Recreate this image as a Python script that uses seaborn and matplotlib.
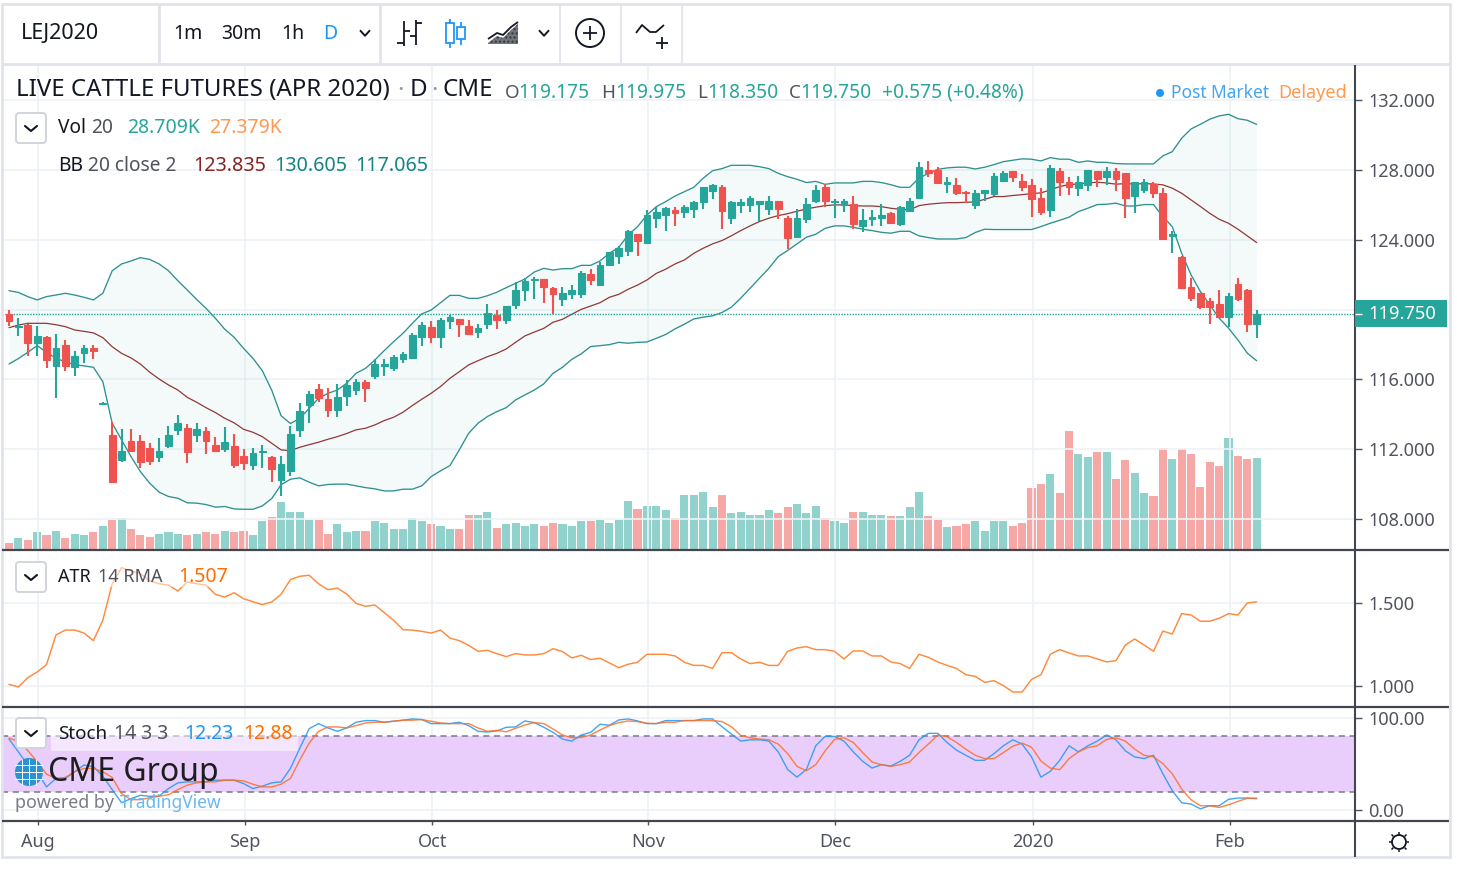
import numpy as np
import matplotlib
matplotlib.use("Agg")
import matplotlib.pyplot as plt
from matplotlib.patches import Circle, FancyBboxPatch, Rectangle
import seaborn as sns

# ---------- data ----------
opens = [119.74,118.98,119.13,118.10,118.41,116.74,117.97,116.69,117.49,117.79,
         114.61,112.79,111.38,112.49,112.49,112.05,111.57,112.18,113.08,113.23,
         112.81,113.04,112.24,112.01,112.16,111.61,111.11,111.84,111.53,110.22,
         110.77,113.08,114.51,115.47,114.85,114.24,115.04,115.41,115.83,116.19,
         116.74,116.67,117.18,117.20,118.44,118.98,118.44,119.34,119.47,119.05,
         118.73,119.17,119.68,119.42,120.24,121.13,121.69,121.73,121.23,120.62,
         120.87,120.87,122.01,121.40,122.55,123.08,123.37,124.30,123.83,125.26,
         125.43,125.70,125.61,125.78,126.16,126.79,127.02,125.26,125.97,125.97,
         126.06,125.78,126.20,125.24,124.17,125.17,126.22,127.02,126.14,126.01,
         126.03,124.80,125.17,125.24,125.51,124.88,125.62,126.41,127.99,127.99,
         127.21,127.11,126.75,125.97,126.69,126.60,127.38,127.92,127.36,127.12,
         126.37,125.70,127.92,127.29,126.96,127.13,127.92,127.57,127.92,127.82,
         126.50,126.87,127.19,126.66,124.19,122.99,121.27,120.93,120.47,120.30,
         119.59,121.46,121.10,119.175]
highs = [119.97,119.49,119.17,119.05,118.50,118.60,118.25,117.62,117.99,117.99,
         114.68,113.58,113.16,113.14,112.79,112.34,112.62,113.33,113.96,113.42,
         113.52,113.25,112.70,113.25,112.87,111.99,112.07,112.26,111.61,111.63,
         113.33,114.66,115.31,115.75,115.48,115.73,115.96,116.02,115.96,117.14,
         117.16,117.37,117.56,118.63,119.26,119.32,119.49,119.70,119.47,119.40,
         119.19,120.31,119.95,120.22,121.55,121.78,121.88,121.75,121.31,121.29,
         121.38,122.18,122.30,122.70,123.31,123.63,124.55,124.30,125.70,125.87,
         125.89,125.85,125.99,126.24,127.00,127.19,127.11,126.20,126.31,126.48,
         126.20,126.48,126.20,125.34,125.76,126.39,127.11,127.19,126.31,126.31,
         126.48,125.76,125.68,126.03,125.61,125.93,126.39,128.45,128.53,128.18,
         127.57,127.55,126.79,126.85,126.85,127.84,127.94,127.92,127.75,127.46,
         126.94,128.28,128.09,127.57,127.65,128.01,127.92,128.18,128.09,127.82,
         127.29,127.46,127.31,126.94,124.52,123.09,121.83,120.95,120.66,121.12,
         120.95,121.83,121.18,119.975]
lows = [119.05,118.50,117.36,117.36,116.63,114.95,116.48,116.21,116.92,117.18,
        114.59,110.14,111.28,111.84,110.92,111.09,111.28,112.09,112.81,111.19,
        112.43,111.74,111.82,111.84,110.92,110.83,110.83,110.92,110.12,109.30,
        110.48,112.70,113.50,114.68,113.86,113.86,114.49,115.10,114.68,116.02,
        116.19,116.50,116.92,117.18,117.91,118.08,117.81,118.88,118.44,118.52,
        118.35,118.88,118.88,119.15,120.05,120.48,120.58,120.39,119.72,120.22,
        120.58,120.68,121.38,121.38,122.47,122.62,123.06,123.06,123.83,124.67,
        124.51,124.78,125.24,125.24,125.78,126.31,124.61,124.88,125.51,125.61,
        125.05,125.41,125.17,123.45,124.17,124.98,126.12,125.89,125.24,125.61,
        124.61,124.44,124.80,124.78,124.88,124.78,125.59,126.31,127.57,127.19,
        126.69,126.58,126.08,125.78,126.24,126.50,127.31,127.31,126.77,125.32,
        125.42,125.32,126.50,126.58,126.50,126.77,127.04,127.13,126.77,125.24,
        125.51,126.68,126.41,124.00,123.26,121.22,120.51,120.05,119.17,119.52,
        118.98,120.51,118.70,118.35]
closes = [119.36,119.05,118.10,118.50,117.11,117.78,116.74,117.34,117.79,117.64,
          114.66,110.14,111.88,111.91,111.28,111.30,111.88,112.79,113.50,111.84,
          113.14,112.45,111.91,112.43,111.11,111.21,111.80,111.90,110.85,111.17,
          112.87,114.21,115.18,114.95,114.24,115.01,115.66,115.83,115.48,116.90,
          116.90,117.26,117.45,118.54,119.13,118.44,119.40,119.59,119.17,118.61,
          118.96,119.78,119.42,120.20,121.11,121.63,121.74,121.31,120.87,120.92,
          121.10,122.07,121.67,122.53,123.27,123.50,124.51,123.90,125.39,125.56,
          125.83,125.51,125.85,126.14,127.00,127.13,125.62,126.14,126.14,126.39,
          126.20,126.20,125.78,124.08,125.24,126.03,126.83,126.24,126.22,126.20,
          124.90,125.13,125.32,125.40,124.98,125.85,126.20,128.18,127.84,127.23,
          127.30,126.69,126.66,126.66,126.83,127.65,127.80,127.59,127.04,126.33,
          125.61,128.09,127.33,127.00,127.29,128.01,127.50,127.92,127.50,126.41,
          127.29,127.29,126.69,124.06,124.33,121.22,120.68,120.15,120.15,119.59,
          120.76,120.61,119.17,119.75]
volumes_k = [1.9,3.4,2.8,5.3,4.4,5.7,3.4,4.8,4.4,5.3,
             7.3,9.2,9.7,6.3,4.4,3.8,4.8,5.3,4.8,4.4,
             4.8,5.3,4.8,5.7,5.3,5.7,4.4,8.7,10.2,14.8,
             11.7,11.7,9.2,9.2,4.8,7.8,5.4,5.7,5.7,8.7,
             8.2,6.3,6.3,9.7,8.7,7.8,7.3,6.3,6.3,10.6,
             10.6,11.6,6.7,7.8,8.2,7.3,7.8,7.3,8.2,7.8,
             7.3,8.7,8.7,9.2,8.2,9.2,15.1,12.6,13.6,13.6,
             12.2,9.8,17.1,17.1,18.1,13.2,17.1,11.3,11.7,10.8,
             10.8,12.2,11.3,13.2,14.2,11.3,13.7,9.8,8.9,8.3,
             11.7,11.7,10.8,10.8,10.3,10.3,13.2,18.1,10.3,9.3,
             6.9,7.3,7.8,8.9,5.8,8.9,8.9,7.3,8.3,19.2,
             20.7,23.6,17.7,37.4,30.0,29.1,30.6,30.6,22.1,28.0,
             24.1,17.7,16.8,32.0,28.6,31.5,30.0,19.7,27.6,26.1,
             35.0,29.5,28.6,28.709]
bb_upper = [121.08,120.98,120.74,120.55,120.74,120.83,120.93,120.83,120.70,120.55,
            120.93,122.22,122.61,122.78,122.97,122.87,122.61,122.22,121.65,121.12,
            120.58,120.07,119.50,118.87,118.41,117.78,117.21,116.50,115.39,113.92,
            113.47,113.77,114.34,114.92,115.20,115.39,115.78,116.35,116.63,117.11,
            117.65,118.16,118.64,119.21,119.75,119.97,120.39,120.81,120.81,120.64,
            120.64,120.79,120.99,121.25,121.50,121.75,122.15,122.36,122.26,122.34,
            122.34,122.53,122.53,122.78,123.22,123.56,124.27,124.74,125.41,125.89,
            126.18,126.50,126.75,127.00,127.52,127.95,128.07,128.26,128.26,128.26,
            128.18,128.07,127.80,127.61,127.46,127.27,127.34,127.17,127.25,127.25,
            127.25,127.34,127.34,127.27,127.15,127.00,127.00,127.52,127.80,128.03,
            128.11,128.15,128.15,128.05,128.15,128.30,128.47,128.55,128.63,128.61,
            128.51,128.70,128.61,128.61,128.43,128.51,128.43,128.43,128.36,128.34,
            128.34,128.34,128.34,128.80,129.04,129.81,130.34,130.61,130.90,131.09,
            131.18,130.93,130.84,130.605]
bb_basis = [118.96,119.11,119.21,119.21,119.21,119.13,119.02,118.83,118.75,118.66,
            118.39,117.87,117.49,117.23,116.88,116.41,116.02,115.68,115.39,114.97,
            114.69,114.38,114.10,113.77,113.51,113.14,112.97,112.72,112.34,111.96,
            111.92,112.11,112.26,112.40,112.57,112.72,112.90,113.11,113.20,113.39,
            113.64,113.83,114.12,114.50,114.86,115.20,115.59,116.06,116.44,116.83,
            117.07,117.30,117.49,117.74,118.12,118.49,118.71,118.92,119.27,119.44,
            119.73,120.01,120.20,120.39,120.70,120.87,121.16,121.40,121.69,122.07,
            122.31,122.61,122.84,123.22,123.51,123.76,123.95,124.22,124.52,124.79,
            125.04,125.23,125.38,125.49,125.63,125.76,125.86,125.95,125.99,125.99,
            125.95,125.93,125.93,125.89,125.80,125.74,125.70,125.95,126.03,126.08,
            126.12,126.12,126.14,126.16,126.31,126.47,126.47,126.53,126.58,126.64,
            126.68,126.85,127.04,127.16,127.19,127.25,127.29,127.25,127.18,127.21,
            127.19,127.21,127.19,127.14,126.95,126.66,126.28,125.90,125.51,125.17,
            124.94,124.60,124.22,123.835]
bb_lower = [116.88,117.19,117.55,117.93,117.55,117.21,117.00,116.84,116.77,116.69,
            115.87,113.49,112.53,111.58,110.72,110.05,109.54,109.29,109.19,108.93,
            108.91,108.83,108.68,108.72,108.58,108.56,108.56,108.75,109.17,109.96,
            110.28,110.36,110.11,109.90,109.98,110.00,110.00,109.90,109.80,109.73,
            109.61,109.61,109.71,109.71,109.90,110.43,110.76,111.06,111.96,112.91,
            113.49,113.87,114.15,114.38,114.82,115.11,115.39,115.74,116.35,116.69,
            117.15,117.46,117.88,117.93,117.99,118.12,118.07,118.12,118.14,118.35,
            118.57,118.89,119.16,119.46,119.56,119.64,119.83,120.13,120.65,121.22,
            121.79,122.36,123.03,123.38,123.76,124.14,124.31,124.65,124.79,124.79,
            124.71,124.60,124.52,124.42,124.37,124.48,124.48,124.22,124.12,124.04,
            124.04,124.04,124.12,124.41,124.60,124.58,124.58,124.58,124.58,124.58,
            124.75,124.94,125.11,125.29,125.61,125.80,126.01,126.03,126.09,125.93,
            125.93,126.01,126.01,125.32,124.75,123.23,121.99,121.03,120.27,119.51,
            118.93,118.26,117.50,117.065]
atr = [1.010,0.994,1.050,1.084,1.129,1.307,1.337,1.337,1.319,1.273,
       1.396,1.616,1.713,1.693,1.677,1.633,1.616,1.608,1.572,1.627,
       1.616,1.608,1.552,1.536,1.562,1.526,1.508,1.490,1.506,1.552,
       1.641,1.661,1.667,1.616,1.580,1.590,1.554,1.498,1.480,1.488,
       1.442,1.396,1.339,1.337,1.329,1.319,1.337,1.289,1.273,1.245,
       1.209,1.215,1.195,1.177,1.195,1.187,1.187,1.195,1.225,1.207,
       1.169,1.185,1.159,1.167,1.139,1.110,1.131,1.143,1.191,1.191,
       1.191,1.181,1.143,1.124,1.124,1.106,1.201,1.201,1.163,1.135,
       1.143,1.124,1.124,1.209,1.229,1.237,1.219,1.219,1.209,1.163,
       1.211,1.211,1.181,1.181,1.145,1.135,1.106,1.191,1.173,1.145,
       1.124,1.106,1.068,1.058,1.022,1.032,1.002,0.964,0.964,1.040,
       1.068,1.191,1.219,1.199,1.181,1.181,1.163,1.145,1.153,1.247,
       1.283,1.247,1.209,1.331,1.313,1.436,1.428,1.390,1.390,1.408,
       1.436,1.428,1.500,1.507]
stoch_k = [77.1,63.2,48.9,41.6,25.1,34.3,34.3,41.6,48.9,47.0,
           36.8,22.2,7.9,12.3,16.0,14.9,15.2,23.3,29.5,30.6,
           30.6,30.6,32.4,32.4,32.4,28.8,23.3,25.9,29.5,30.6,
           45.2,67.2,88.4,93.9,89.2,85.5,89.2,95.4,97.2,97.2,
           95.4,96.5,97.6,99.0,98.3,93.9,93.9,93.9,95.4,91.7,
           85.5,84.8,85.9,89.9,90.3,96.8,95.0,90.0,84.4,77.1,
           74.9,81.5,84.4,93.2,92.1,97.9,99.0,96.8,93.9,93.9,
           97.2,97.2,97.2,97.2,99.0,99.0,90.6,82.6,74.9,76.3,
           76.3,74.9,63.2,44.1,35.7,44.1,69.8,80.0,80.0,74.9,
           63.2,52.9,45.6,49.3,47.8,52.9,59.5,76.3,83.3,83.3,
           73.4,65.0,59.5,54.0,54.0,61.3,69.8,76.3,71.6,57.7,
           35.7,42.0,54.0,69.8,63.2,69.8,74.9,81.5,76.3,64.3,
           57.7,55.9,59.5,39.4,21.1,7.9,6.5,1.3,4.6,4.6,
           11.6,13.0,13.0,12.23]
stoch_d = [78.2,74.5,64.6,52.6,39.0,34.3,35.4,41.6,45.2,45.2,
           41.6,35.4,17.8,11.2,11.2,13.4,14.9,16.7,22.2,27.0,
           29.5,30.6,30.6,32.4,32.4,31.7,28.0,25.1,25.1,28.0,
           34.3,54.4,72.7,85.5,90.3,90.3,89.2,91.7,94.6,95.4,
           95.4,96.5,97.6,97.6,98.3,96.5,94.6,93.9,93.9,93.9,
           89.2,85.5,86.6,85.0,88.8,92.4,95.0,93.9,88.0,81.5,
           78.5,78.9,81.5,87.0,91.7,95.0,96.8,96.1,94.3,93.9,
           95.4,95.4,97.2,97.2,97.2,97.2,96.1,90.6,81.1,78.5,
           77.1,76.3,71.6,61.3,47.4,42.7,49.3,64.3,76.7,78.5,
           73.4,62.4,52.2,49.3,47.4,49.3,52.2,62.4,71.6,81.5,
           79.6,73.4,66.1,59.5,55.9,55.9,62.4,69.4,72.7,68.3,
           53.3,45.6,43.8,55.9,63.2,67.9,69.8,76.7,78.5,74.9,
           66.1,59.5,57.7,50.4,39.4,22.9,11.2,4.6,4.6,2.8,
           5.7,9.4,12.7,12.88]
price_ticks = [108, 112, 116, 120, 124, 128, 132]
atr_ticks = [1.0, 1.5]
stoch_ticks = [0, 100]
month_bars = [3.12, 25.15, 45.1, 68.1, 88.05, 109.15, 130.15]
month_labels = ["Aug", "Sep", "Oct", "Nov", "Dec", "2020", "Feb"]
last_price = 119.75
band_high, band_low = 80, 20

# ---------- style ----------
sns.set_theme(style="white")
FONT = ["Noto Sans", "DejaVu Sans"]
plt.rcParams["font.family"] = FONT
W, H = 1457, 875
GREEN, RED = "#26a69a", "#ef5350"
GRID = "#edf2f6"
DARK = "#50535e"
LINE = "#434651"
BORDER = "#e0e3eb"
TEAL = "#138484"
MAROON = "#872323"
BLUE = "#2196f3"
ORANGE = "#ff6d00"
ORANGE2 = "#ff9850"

fig = plt.figure(figsize=(W / 100, H / 100), dpi=100, facecolor="white")

def pane(y0, y1, z=2):
    a = fig.add_axes([2 / W, 1 - y1 / H, (1354 - 2) / W, (y1 - y0) / H], zorder=z)
    a.set_xlim((2 - 9) / 9.381, (1354 - 9) / 9.381)
    a.patch.set_alpha(0)
    for s in a.spines.values():
        s.set_visible(False)
    return a

YTICK = dict(length=5.8, width=1, color=DARK, labelcolor=DARK, labelsize=13, pad=4.3, right=True)

bars = np.arange(len(closes))
up = np.array(closes) >= np.array(opens)
cols = [GREEN if u else RED for u in up]

# volume pane sits underneath the price pane
av = pane(65, 549, z=1)
av.set_ylim(0, 153)
av.bar(bars, volumes_k, width=0.86, color=cols, alpha=0.5, linewidth=0)
av.set_xticks([]); av.set_yticks([])

# price pane
ax = pane(65, 549, z=2)
ax.set_ylim(132 - 449 / 17.46, 132 + 35 / 17.46)
ax.set_xticks(month_bars); ax.set_xticklabels([])
ax.set_yticks(price_ticks)
ax.set_yticklabels(["" if t == 120 else f"{t:.3f}" for t in price_ticks])
ax.yaxis.tick_right()
ax.tick_params(axis="y", **YTICK)
ax.tick_params(axis="x", length=0)
ax.grid(True, color=GRID, lw=1.2, zorder=0)
ax.set_axisbelow(True)
ax.fill_between(bars, bb_lower, bb_upper, color=GREEN, alpha=0.05, linewidth=0, zorder=1)
sns.lineplot(x=bars, y=bb_upper, ax=ax, color="#2f9090", linewidth=0.95, errorbar=None, legend=False, zorder=2)
sns.lineplot(x=bars, y=bb_lower, ax=ax, color="#2f9090", linewidth=0.95, errorbar=None, legend=False, zorder=2)
sns.lineplot(x=bars, y=bb_basis, ax=ax, color=MAROON, linewidth=0.9, alpha=0.9, errorbar=None, legend=False, zorder=2)
ax.axhline(last_price, color=GREEN, lw=1, ls=(0, (1, 1)), zorder=2)
ax.vlines(bars, lows, highs, colors=cols, linewidth=1.5, zorder=3)
body_bottom = np.minimum(opens, closes)
body_height = np.abs(np.array(closes) - np.array(opens))
ax.bar(bars, body_height, bottom=body_bottom, width=0.72, color=cols, edgecolor=cols, linewidth=0.8, zorder=4)
ax.set_xlim((2 - 9) / 9.381, (1354 - 9) / 9.381)

# ATR pane
a2 = pane(551, 706)
a2.set_ylim(1 - 20 / 166, 1.5 + 52 / 166)
a2.set_xticks(month_bars); a2.set_xticklabels([])
a2.set_yticks(atr_ticks)
a2.set_yticklabels([f"{t:.3f}" for t in atr_ticks])
a2.yaxis.tick_right()
a2.tick_params(axis="y", **YTICK)
a2.tick_params(axis="x", length=0)
a2.grid(True, color=GRID, lw=1.2)
a2.set_axisbelow(True)
sns.lineplot(x=bars, y=atr, ax=a2, color="#ff8a3d", linewidth=1.05, errorbar=None, legend=False)

# Stochastic pane
a3 = pane(708, 820)
a3.set_ylim(-10 / 0.92, 100 + 10 / 0.92)
a3.set_xticks(month_bars)
a3.set_xticklabels(month_labels)
a3.set_yticks(stoch_ticks)
a3.set_yticklabels(["0.00", "100.00"])
a3.yaxis.tick_right()
a3.tick_params(axis="y", **YTICK)
a3.tick_params(axis="x", length=3.6, width=1, color=DARK, labelcolor=DARK, labelsize=13, pad=6, bottom=True)
a3.grid(True, color=GRID, lw=1.2)
a3.set_axisbelow(True)
a3.axhspan(band_low, band_high, color="#e9cefc", linewidth=0, zorder=1)
a3.axhline(band_high, color="#787b86", lw=1.1, ls=(0, (4, 3)), zorder=2)
a3.axhline(band_low, color="#787b86", lw=1.1, ls=(0, (4, 3)), zorder=2)
sns.lineplot(x=bars, y=stoch_k, ax=a3, color=BLUE, linewidth=1.0, alpha=0.85, errorbar=None, legend=False, zorder=3)
sns.lineplot(x=bars, y=stoch_d, ax=a3, color="#ff6d20", linewidth=1.0, alpha=0.85, errorbar=None, legend=False, zorder=3)
a3.set_xlabel(""); a3.set_ylabel("")
for lab in a3.xaxis.get_majorticklabels():
    if lab.get_text() == "2020":
        lab.set_fontweight("bold")

# ---------- overlay: chrome, legends, watermark (pixel coordinates) ----------
ov = fig.add_axes([0, 0, 1, 1], zorder=10)
ov.set_xlim(0, W); ov.set_ylim(H, 0); ov.axis("off"); ov.patch.set_alpha(0)

def T(x, y, s, c=DARK, fs=13, w="normal", ha="left", va="center", z=None):
    return ov.text(x, y + 1.8, s, color=c, fontsize=fs, fontweight=w, ha=ha, va=va, zorder=z or 8)

def L(xs, ys, c="#131722", lw=1.3, **k):
    ov.plot(xs, ys, color=c, lw=lw, solid_capstyle="butt", **k)

def chevron(cx, cy, s=5, c="#131722", lw=1.4):
    L([cx - s, cx, cx + s], [cy - s * 0.55, cy + s * 0.55, cy - s * 0.55], c=c, lw=lw)

def legend_button(x0, y0):
    ov.add_patch(FancyBboxPatch((x0 + 2, y0 + 2), 26, 26, boxstyle="round,pad=2,rounding_size=3",
                                fc="white", ec="#d1d4dc", lw=1.4, zorder=5))
    ov.plot([x0 + 9, x0 + 15, x0 + 21], [y0 + 13, y0 + 18, y0 + 13], color="#131722", lw=1.5, zorder=6)

# frame and separators
ov.add_patch(Rectangle((1.5, 3.5), 1448.5, 853, fc="none", ec=BORDER, lw=2))
L([2, 1450], [64, 64], c=BORDER, lw=2)
for x, lw in [(158.5, 2), (380, 2), (560, 1.2), (621, 1.2), (682, 1.2)]:
    L([x, x], [4, 64], c=BORDER, lw=lw)
for y in (549.5, 706.5, 820.5):
    L([2, 1449], [y, y], c=LINE, lw=1.6)
L([1354.5, 1354.5], [65, 857], c=LINE, lw=1.5)

# toolbar
T(21, 32, "LEJ2020", c="#131722", fs=15.5, w="semibold")
T(173, 32, "1m", c="#131722", fs=14)
T(221, 32, "30m", c="#131722", fs=14)
T(281, 32, "1h", c="#131722", fs=14)
T(323, 32, "D", c=BLUE, fs=14)
chevron(365, 33)
L([404, 404], [21, 46]); L([397, 404], [43, 43]); L([404, 410], [31, 31])
L([416, 416], [20, 45]); L([416, 422], [23, 23]); L([410, 416], [36, 36])
for cx, y0, y1, t0, t1 in [(450, 23, 43, 19, 48), (461, 27, 39, 22, 45)]:
    ov.add_patch(Rectangle((cx - 4, y0), 8, y1 - y0, fc="white", ec=BLUE, lw=1.3))
    L([cx, cx], [t0, y0], c=BLUE); L([cx, cx], [y1, t1], c=BLUE)
ov.fill_between([488, 497, 503, 511, 518], [43, 36, 38, 30, 24], [44, 44, 44, 44, 44], color="#131722", alpha=0.6, lw=0, hatch="....")
L([488, 497, 503, 511, 518], [39, 33, 35, 27, 22])
chevron(544, 33)
ov.add_patch(Circle((590, 33), 14, fc="white", ec="#131722", lw=1.4))
L([583, 597], [33, 33]); L([590, 590], [26, 40])
L([636, 642, 650, 656, 664], [33, 25, 32, 32, 25])
L([656, 668], [43, 43]); L([662, 662], [37, 49])

# main legend
T(16, 88, "LIVE CATTLE FUTURES (APR 2020)", c="#131722", fs=17.3)
T(397, 89, "\u00b7", c="#9598a1", fs=17.3, w="bold")
T(410, 88, "D", c="#131722", fs=17.3)
T(431, 89, "\u00b7", c="#9598a1", fs=17.3, w="bold")
T(443, 88, "CME", c="#131722", fs=17.3)
OHLC = [(505, "O", "119.175"), (601, "H", "119.975"), (697, "L", "118.350"), (789, "C", "119.750")]
for x, k, v in OHLC:
    T(x, 91, k, c=DARK, fs=13.5)
    T(x + {"O": 13, "H": 14, "L": 10, "C": 11}[k], 91, v, c=GREEN, fs=13.8)
T(882, 91, "+0.575 (+0.48%)", c=GREEN, fs=13.8)
ov.add_patch(Circle((1160, 93), 4, fc=BLUE, ec="none"))
T(1171, 91, "Post Market", c="#42a5f5", fs=12.5)
T(1278, 91, "Delayed", c=ORANGE2, fs=13)

legend_button(16, 113)
T(58, 126, "Vol", c="#131722", fs=13.8)
T(91, 126, "20", c=DARK, fs=13.8)
T(127, 126, "28.709K", c=GREEN, fs=14)
T(209, 126, "27.379K", c=ORANGE2, fs=14)
T(58, 164, "BB", c="#131722", fs=13.8)
T(88, 164, "20 close 2", c=DARK, fs=13.8)
T(193, 164, "123.835", c=MAROON, fs=14.2)
T(274, 164, "130.605", c=TEAL, fs=14.2)
T(355, 164, "117.065", c=TEAL, fs=14.2)

# price tag
ov.add_patch(Rectangle((1355, 300), 92, 27, fc=GREEN, ec="none", zorder=5))
L([1355, 1362], [313.5, 313.5], c="white", lw=1, zorder=6)
T(1368, 312, "119.750", c="white", fs=13.2, w="semibold")

# ATR legend
ov.add_patch(Rectangle((50, 565), 180, 22, fc="white", ec="none", alpha=0.5, zorder=3))
legend_button(16, 562)
T(58, 575, "ATR", c="#131722", fs=13)
T(98, 575, "14 RMA", c=DARK, fs=13)
T(178, 575, "1.507", c=ORANGE, fs=14)

# Stoch legend
ov.add_patch(Rectangle((51, 737), 247, 14, fc="white", ec="none", alpha=0.5, zorder=3))
ov.add_patch(Rectangle((50, 721), 248, 16, fc="white", ec="none", alpha=0.5, zorder=3))
legend_button(16, 718)
T(58, 732, "Stoch", c="#131722", fs=13.5)
T(114, 732, "14 3 3", c=DARK, fs=14)
T(184, 732, "12.23", c=BLUE, fs=14)
T(243, 732, "12.88", c=ORANGE, fs=14)

# watermark
ov.add_patch(Circle((29, 772), 14, fc="#2b93cf", ec="none", zorder=6))
for off in (-7, 0, 7):
    L([15, 43], [772 + off, 772 + off], c="white", lw=0.7, zorder=7)
    L([29 + off, 29 + off], [759, 785], c="white", lw=0.7, zorder=7)
T(48, 770.5, "CME Group", c="#1e1e1e", fs=23, w="semibold")
T(15, 801.5, "powered by", c="#787b86", fs=12.8)
T(120, 801.5, "TradingView", c="#6ab8f0", fs=12.5)

# settings gear
ov.add_patch(Circle((1399, 842), 7, fc="white", ec="#131722", lw=1.3))
for dx, dy in [(0, -10), (0, 10), (-10, 0), (10, 0), (-7.5, -7.5), (7.5, -7.5), (-7.5, 7.5), (7.5, 7.5)]:
    L([1399 + dx * 0.75, 1399 + dx], [842 + dy * 0.75, 842 + dy], lw=1.1)

fig.savefig("out.png", dpi=100)
